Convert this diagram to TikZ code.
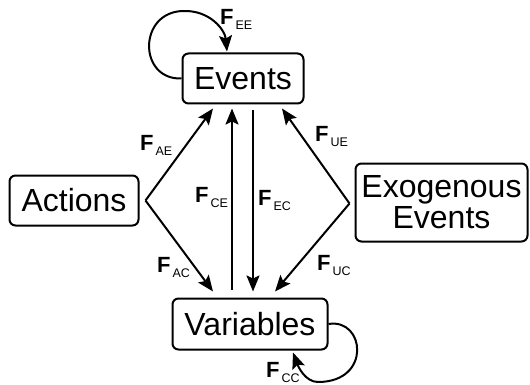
\documentclass[tikz,border=0pt]{standalone}
\usepackage{fontspec}
\setmainfont{Liberation Sans}
\usetikzlibrary{arrows.meta,calc}
\tikzset{
  box/.style={draw, line width=2pt, rounded corners=6pt, inner sep=0pt, align=center, font=\fontsize{32}{31}\selectfont},
  arr/.style={line width=2pt, -{Stealth[length=16pt,width=13pt,inset=3pt]}},
  flab/.style={anchor=base west, inner sep=0pt, font=\fontsize{22}{22}\selectfont\bfseries},
}
\newcommand{\flabel}[1]{F\hspace{2pt}\raisebox{-5pt}{\fontsize{12.5}{12.5}\selectfont\mdseries #1}}
\begin{document}
\begin{tikzpicture}[x=1pt,y=-1pt]
\useasboundingbox (0,0) rectangle (530,385);
% boxes
\node[box, minimum width=121pt, minimum height=50pt] (ev) at (243,78.5) {Events};
\node[box, minimum width=129pt, minimum height=50pt] (act) at (74,200.5) {Actions};
\node[box, minimum width=172pt, minimum height=78pt] (exo) at (441.5,202.5) {Exogenous\\Events};
\node[box, minimum width=155pt, minimum height=51pt] (var) at (250,324) {Variables};
% straight connectors
\draw[arr] ([xshift=6pt]act.east) -- ([xshift=-30pt,yshift=-4pt]ev.south);
\draw[arr] ([xshift=6pt]act.east) -- ([xshift=-37pt,yshift=6pt]var.north);
\draw[arr] ([xshift=-18pt,yshift=8pt]var.north) -- ([xshift=-11pt,yshift=-4pt]ev.south);
\draw[arr] ([xshift=10pt,yshift=-6pt]ev.south) -- ([xshift=3pt,yshift=6pt]var.north);
\draw[arr] ([xshift=-5pt,yshift=-1pt]exo.west) -- ([xshift=39pt,yshift=-4pt]ev.south);
\draw[arr] ([xshift=-5pt,yshift=-1pt]exo.west) -- ([xshift=25pt,yshift=6pt]var.north);
% self loops
\draw[arr] (ev.west) .. controls (138,80) and (138,12) .. (183,11)
  .. controls (210,10) and (225,30) .. ([xshift=-16pt,yshift=1pt]ev.north);
\draw[arr] (var.east) .. controls (365,318) and (372,382) .. (318,382)
  .. controls (305,382) and (298,366) .. ([xshift=43pt,yshift=-2pt]var.south);
% labels
\node[flab] (lEE) at (220,25) {\flabel{EE}};
\node[flab] (lAE) at (140,150) {\flabel{AE}};
\node[flab] (lUE) at (315,142) {\flabel{UE}};
\node[flab] (lCE) at (195,202) {\flabel{CE}};
\node[flab] (lEC) at (258,205) {\flabel{EC}};
\node[flab] (lAC) at (157,272) {\flabel{AC}};
\node[flab] (lUC) at (317,270) {\flabel{UC}};
\node[flab] (lCC) at (266,377) {\flabel{CC}};
\end{tikzpicture}
\end{document}
